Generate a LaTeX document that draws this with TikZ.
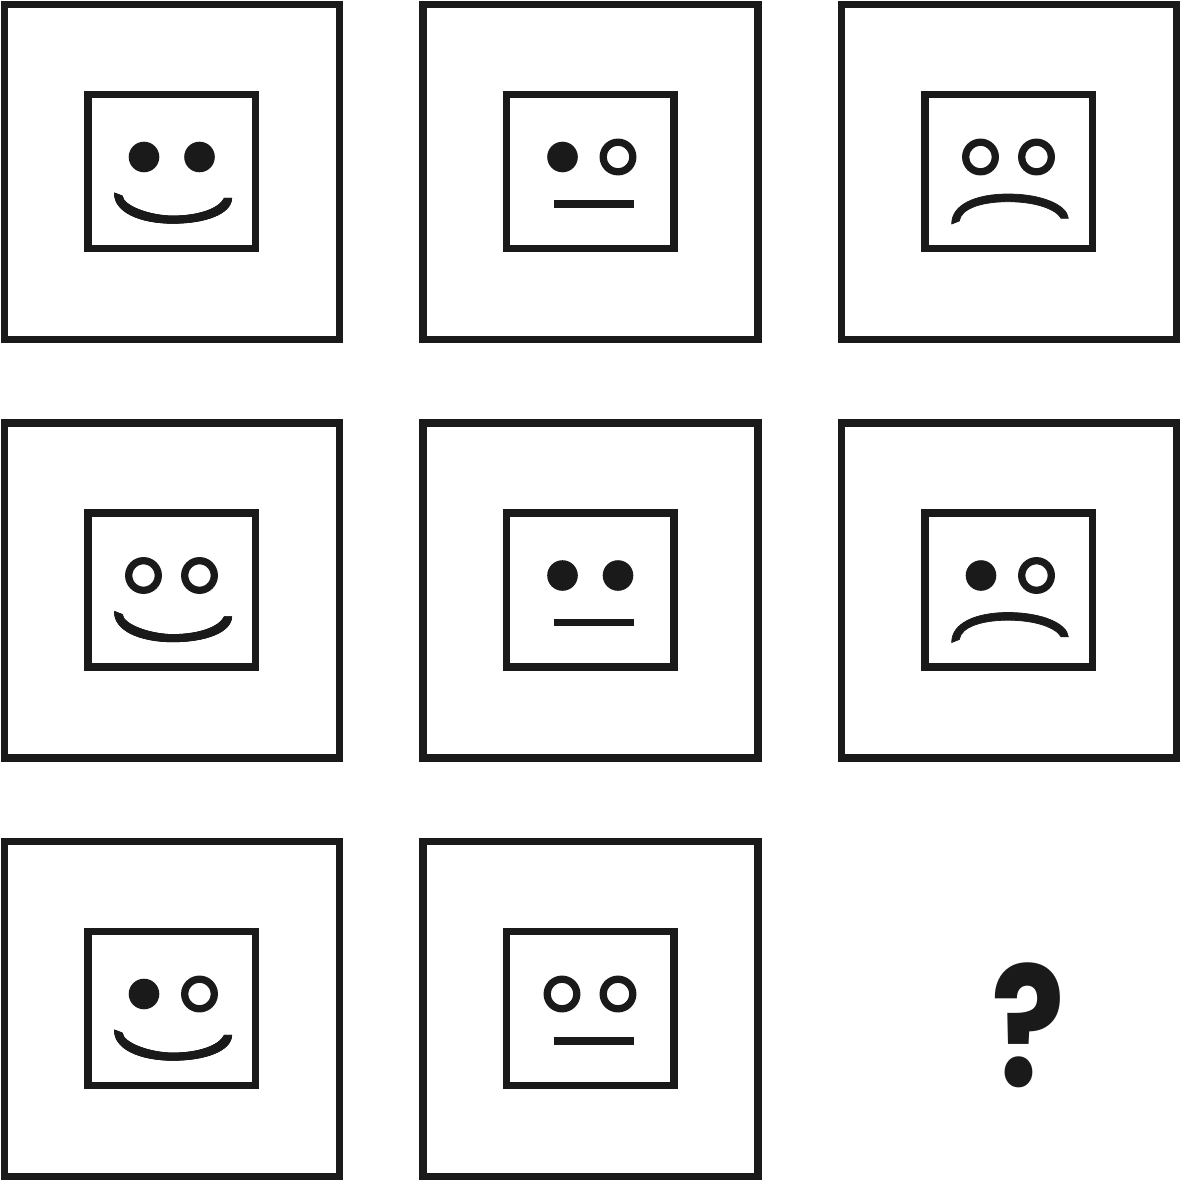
\documentclass[tikz,border=0pt]{standalone}
\usepackage{fontspec}
\newfontfamily\qfont{Poppins}
\definecolor{ink}{HTML}{1A1A1A}
\tikzset{
  frameline/.style={draw=ink,line width=7.4pt,fill=white},
  faceline/.style={draw=ink,line width=7.4pt,fill=white},
  eyefull/.style={fill=ink},
  eyering/.style={draw=ink,line width=7.3pt,fill=white},
  mouthshape/.style={fill=ink,draw=ink,line width=0.7pt,line join=round},
  flatmouth/.style={draw=ink,line width=7.5pt}
}
\newcommand{\cellframe}{%
  \draw[frameline] (4.5,4.5) rectangle (339.5,339.5);
  \draw[faceline] (87.8,94.4) rectangle (255.6,248.6);}
\newcommand{\eyeF}[1]{\fill[eyefull] (#1,157) circle (15.3pt);}
\newcommand{\eyeO}[1]{\draw[eyering] (#1,157) circle (14.8pt);}
\newcommand{\mouthHappy}{%
  \fill[mouthshape] (114.5,193) .. controls (114,212) and (140,223.3) .. (173,223.3)
    .. controls (205,223.3) and (231,214) .. (231.7,198.3) -- (224.3,198.3)
    .. controls (219,209) and (198,216) .. (173,216)
    .. controls (150,216) and (123,206) .. (122.3,196) -- cycle;
  \draw[mouthshape] (114.5,193) .. controls (114,212) and (140,223.3) .. (173,223.3)
    .. controls (205,223.3) and (231,214) .. (231.7,198.3) -- (224.3,198.3)
    .. controls (219,209) and (198,216) .. (173,216)
    .. controls (150,216) and (123,206) .. (122.3,196) -- cycle;}
\newcommand{\mouthFlat}{\draw[flatmouth] (135,203.8) -- (215.5,203.8);}
\newcommand{\mouthSad}{%
  \draw[mouthshape] (114.7,224) .. controls (114.5,205) and (138,194) .. (171,194)
    .. controls (205,194) and (230,205) .. (231.3,218.3) -- (224,218.3)
    .. controls (219,209) and (198,201.7) .. (171,201.7)
    .. controls (146,201.7) and (124,208) .. (122.3,221) -- cycle;}
\begin{document}
\begin{tikzpicture}[x=1pt,y=-1pt]
\useasboundingbox (0,0) rectangle (1197,1196);
% row 1
\begin{scope}
  \cellframe \eyeF{144} \eyeF{199.5} \mouthHappy
\end{scope}
\begin{scope}[shift={(418.5,0)}]
  \cellframe \eyeF{144} \eyeO{199.5} \mouthFlat
\end{scope}
\begin{scope}[shift={(837,0)}]
  \cellframe \eyeO{143.5} \eyeO{199.5} \mouthSad
\end{scope}
% row 2
\begin{scope}[shift={(0,418.5)}]
  \cellframe \eyeO{143.5} \eyeO{199.5} \mouthHappy
\end{scope}
\begin{scope}[shift={(418.5,418.5)}]
  \cellframe \eyeF{144} \eyeF{199.5} \mouthFlat
\end{scope}
\begin{scope}[shift={(837,418.5)}]
  \cellframe \eyeF{144} \eyeO{199.5} \mouthSad
\end{scope}
% row 3
\begin{scope}[shift={(0,837)}]
  \cellframe \eyeF{144} \eyeO{199.5} \mouthHappy
\end{scope}
\begin{scope}[shift={(418.5,837)}]
  \cellframe \eyeO{143.5} \eyeO{199.5} \mouthFlat
\end{scope}
\node[text=ink,inner sep=0pt,anchor=center] (q) at (1028,1025)
  {\scalebox{0.82}[1]{\qfont\bfseries\fontsize{167}{167}\selectfont ?}};
\end{tikzpicture}
\end{document}
